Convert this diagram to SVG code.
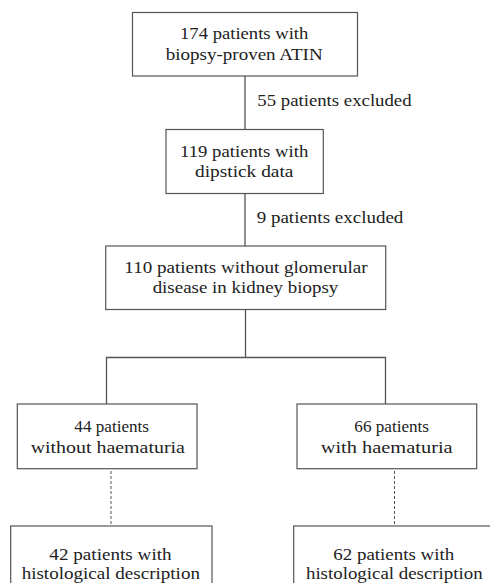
<svg xmlns="http://www.w3.org/2000/svg" width="490" height="583" viewBox="0 0 490 583">
<style>
.box{fill:#fff;stroke:#555;stroke-width:1.2}
.t{font-size:17.5px;fill:#222;text-anchor:middle}
.l{font-size:17.5px;fill:#222}
.c{fill:none;stroke:#555;stroke-width:1.3}
.d{fill:none;stroke:#555;stroke-width:1;stroke-dasharray:3 2}
</style>
<rect width="490" height="583" fill="#fff"/>
<g font-family="Liberation Serif, Times New Roman, serif">
<g id="connectors">
<line class="c" x1="245" y1="76" x2="245" y2="129.5"/>
<line class="c" x1="245" y1="193.5" x2="245" y2="246"/>
<polyline class="c" points="245.5,309.5 245.5,357.5"/>
<polyline class="c" points="106.5,404 106.5,357.5 385.5,357.5 385.5,404"/>
<line class="d" x1="111" y1="471" x2="111" y2="526"/>
<line class="d" x1="394.5" y1="471" x2="394.5" y2="526"/>
<text class="l" x="257.3" y="106" textLength="154.3" lengthAdjust="spacingAndGlyphs">55 patients excluded</text>
<text class="l" x="256.7" y="223.3" textLength="146.7" lengthAdjust="spacingAndGlyphs">9 patients excluded</text>
</g>
<g id="n1">
<rect class="box" x="132.5" y="12.5" width="225" height="63.5"/>
<text class="t" x="244.2" y="39.3" textLength="128.3" lengthAdjust="spacingAndGlyphs">174 patients with</text>
<text class="t" x="244.2" y="60" textLength="157" lengthAdjust="spacingAndGlyphs">biopsy-proven ATIN</text>
</g>
<g id="n2">
<rect class="box" x="166" y="129.5" width="157.3" height="64"/>
<text class="t" x="244.2" y="156.7" textLength="128.3" lengthAdjust="spacingAndGlyphs">119 patients with</text>
<text class="t" x="244.2" y="176.7" textLength="98.3" lengthAdjust="spacingAndGlyphs">dipstick data</text>
</g>
<g id="n3">
<rect class="box" x="105.7" y="246" width="280" height="63.5"/>
<text class="t" x="246" y="273.3" textLength="243.3" lengthAdjust="spacingAndGlyphs">110 patients without glomerular</text>
<text class="t" x="245.5" y="293.3" textLength="185.7" lengthAdjust="spacingAndGlyphs">disease in kidney biopsy</text>
</g>
<g id="n4">
<rect class="box" x="17.3" y="404" width="179.7" height="64.7"/>
<text class="t" x="111.7" y="432.3" textLength="74.7" lengthAdjust="spacingAndGlyphs">44 patients</text>
<text class="t" x="107.8" y="453" textLength="154.3" lengthAdjust="spacingAndGlyphs">without  haematuria</text>
</g>
<g id="n5">
<rect class="box" x="297" y="404" width="179.7" height="64.7"/>
<text class="t" x="391.7" y="432.3" textLength="74.7" lengthAdjust="spacingAndGlyphs">66 patients</text>
<text class="t" x="386.7" y="453" textLength="132" lengthAdjust="spacingAndGlyphs">with  haematuria</text>
</g>
<g id="n6">
<rect class="box" x="10.7" y="526" width="201.3" height="70"/>
<text class="t" x="110.5" y="559.5" textLength="122.3" lengthAdjust="spacingAndGlyphs">42 patients with</text>
<text class="t" x="110.8" y="579" textLength="178.3" lengthAdjust="spacingAndGlyphs">histological description</text>
</g>
<g id="n7">
<rect class="box" x="293.7" y="526" width="210" height="70"/>
<text class="t" x="393.8" y="559.5" textLength="121" lengthAdjust="spacingAndGlyphs">62 patients with</text>
<text class="t" x="394.3" y="579" textLength="176.7" lengthAdjust="spacingAndGlyphs">histological description</text>
</g>
</g>
</svg>
